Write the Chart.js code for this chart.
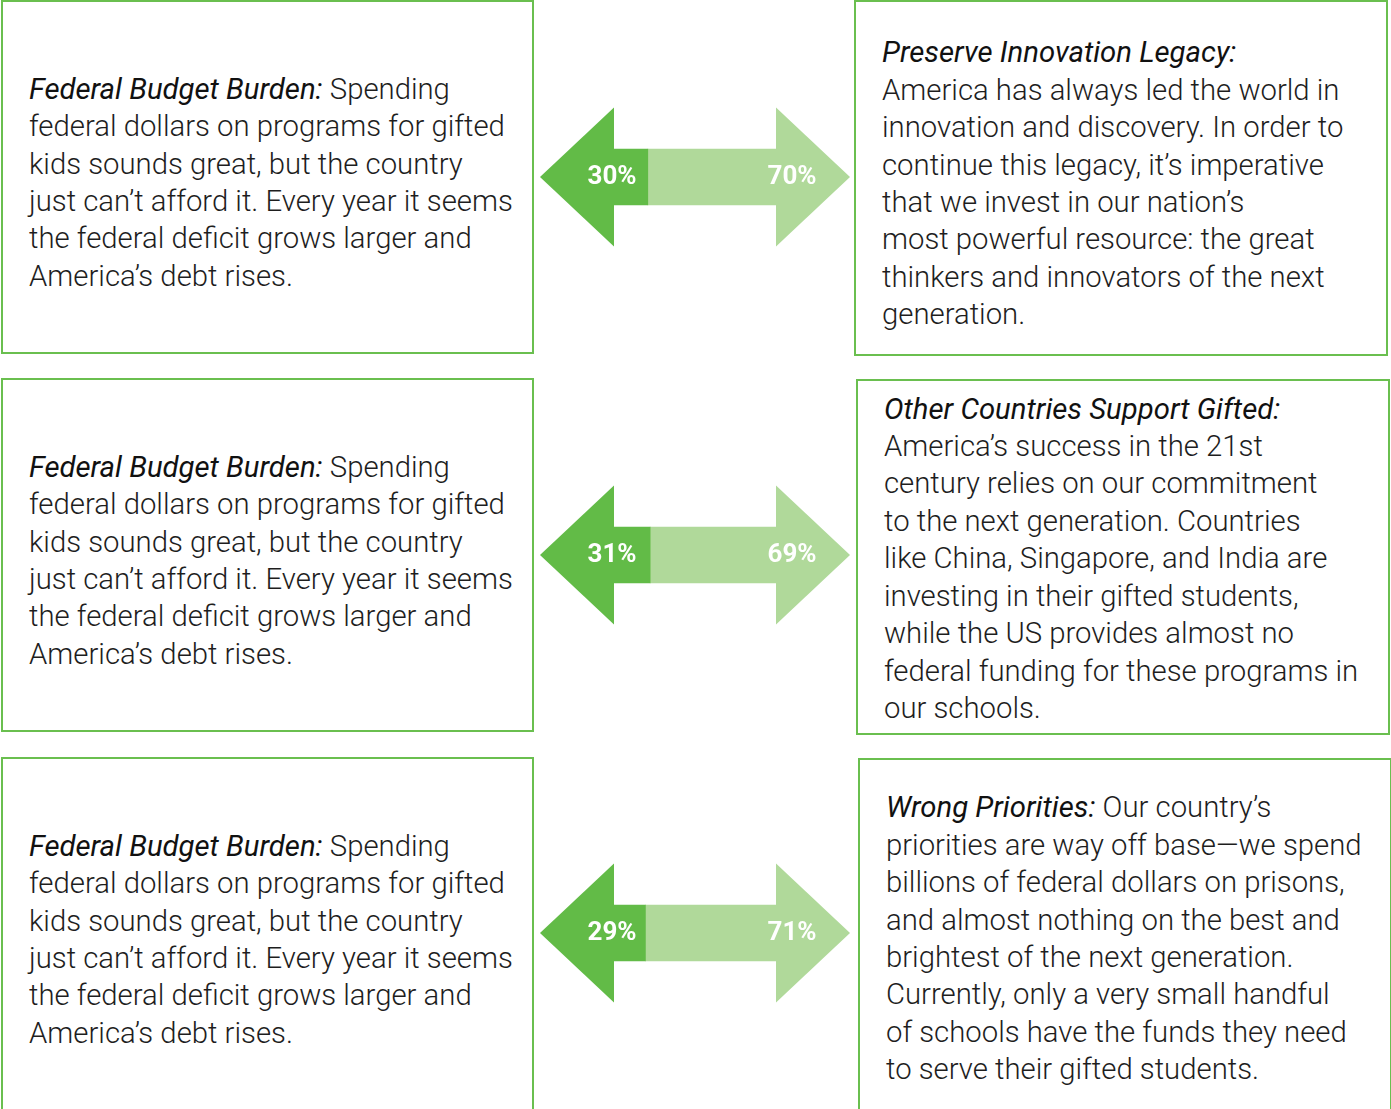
<!DOCTYPE html>
<html lang="en">

<head>
  <meta charset="UTF-8">
  <title>Gifted Funding Arguments</title>
  <script src="https://cdn.jsdelivr.net/npm/chart.js"></script>
  <style>
    html, body { margin: 0; padding: 0; background: #fff; overflow: hidden; }
    body { width: 1391px; height: 1109px; position: relative; font-family: Roboto, "Open Sans", sans-serif; }
    .box {
      position: absolute;
      box-sizing: border-box;
      border: 2px solid #6abf4f;
      display: flex;
      align-items: center;
      padding: 0 0 0 26px;
      font-weight: 300;
      font-size: 29.3px;
      line-height: 37.4px;
      color: #1e1e1e;
      white-space: nowrap;
    }
    .box em { font-style: italic; font-weight: 400; color: #111; }
    #arrow-wrap { position: absolute; left: 534px; top: -12px; width: 320px; height: 1134px; }
  </style>
</head>

<body>
  <div class="box" style="left:1px;top:0;width:533px;height:354px;padding-top:12px">
    <div><em>Federal Budget Burden:</em> Spending<br>federal dollars on programs for gifted<br>kids sounds great, but the country<br>just can’t afford it. Every year it seems<br>the federal deficit grows larger and<br>America’s debt rises.</div>
  </div>
  <div class="box" style="left:1px;top:378px;width:533px;height:354px;padding-top:12px">
    <div><em>Federal Budget Burden:</em> Spending<br>federal dollars on programs for gifted<br>kids sounds great, but the country<br>just can’t afford it. Every year it seems<br>the federal deficit grows larger and<br>America’s debt rises.</div>
  </div>
  <div class="box" style="left:1px;top:757px;width:533px;height:362px;padding-top:4px">
    <div><em>Federal Budget Burden:</em> Spending<br>federal dollars on programs for gifted<br>kids sounds great, but the country<br>just can’t afford it. Every year it seems<br>the federal deficit grows larger and<br>America’s debt rises.</div>
  </div>

  <div class="box" style="left:854px;top:0;width:534px;height:356px;padding-top:12px">
    <div><em>Preserve Innovation Legacy:</em><br>America has always led the world in<br>innovation and discovery. In order to<br>continue this legacy, it’s imperative<br>that we invest in our nation’s<br>most powerful resource: the great<br>thinkers and innovators of the next<br>generation.</div>
  </div>
  <div class="box" style="left:856px;top:379px;width:534px;height:356px;padding-top:4px">
    <div><em>Other Countries Support Gifted:</em><br>America’s success in the 21st<br>century relies on our commitment<br>to the next generation. Countries<br>like China, Singapore, and India are<br>investing in their gifted students,<br>while the US provides almost no<br>federal funding for these programs in<br>our schools.</div>
  </div>
  <div class="box" style="left:858px;top:758px;width:534px;height:362px">
    <div><em>Wrong Priorities:</em> Our country’s<br>priorities are way off base—we spend<br>billions of federal dollars on prisons,<br>and almost nothing on the best and<br>brightest of the next generation.<br>Currently, only a very small handful<br>of schools have the funds they need<br>to serve their gifted students.</div>
  </div>

  <div id="arrow-wrap"><canvas id="arrows"></canvas></div>

  <script>
    // one row per pair of boxes
    const rows = ["Budget vs Innovation", "Budget vs Other Countries", "Budget vs Priorities"];
    const againstShare = [30, 31, 29];
    const forShare = [70, 69, 71];

    const darkGreen = "#62bb47";
    const lightGreen = "#b0d99a";

    // arrow heads sit on the bar ends, percent labels inside
    const arrowHeads = {
      id: "arrowHeads",
      afterDatasetsDraw(chart) {
        const ctx = chart.ctx;
        const left = chart.getDatasetMeta(0).data;
        const right = chart.getDatasetMeta(1).data;
        const half = 37, headH = 69.5;
        ctx.save();
        left.forEach((bar, i) => {
          const y = bar.y;
          ctx.fillStyle = darkGreen;
          ctx.beginPath();
          ctx.moveTo(bar.base - half, y);
          ctx.lineTo(bar.base + half, y - headH);
          ctx.lineTo(bar.base + half, y + headH);
          ctx.closePath();
          ctx.fill();

          const r = right[i];
          ctx.fillStyle = lightGreen;
          ctx.beginPath();
          ctx.moveTo(r.x + half, y);
          ctx.lineTo(r.x - half, y - headH);
          ctx.lineTo(r.x - half, y + headH);
          ctx.closePath();
          ctx.fill();

          ctx.fillStyle = "#fff";
          ctx.font = "bold 26px Roboto, sans-serif";
          ctx.textAlign = "center";
          ctx.textBaseline = "middle";
          ctx.fillText(againstShare[i] + "%", bar.base + 35, y);
          ctx.fillText(forShare[i] + "%", r.x - 21, y);
        });
        ctx.restore();
      }
    };

    new Chart(document.getElementById("arrows"), {
      type: "bar",
      data: {
        labels: rows,
        datasets: [
          { label: "Against", data: againstShare, backgroundColor: darkGreen, barThickness: 56, borderWidth: 0 },
          { label: "For", data: forShare, backgroundColor: lightGreen, barThickness: 56, borderWidth: 0 }
        ]
      },
      options: {
        indexAxis: "y",
        responsive: true,
        maintainAspectRatio: false,
        animation: false,
        layout: { padding: { left: 43, right: 41, top: 0, bottom: 0 } },
        plugins: { legend: { display: false }, tooltip: { enabled: false } },
        scales: {
          x: { stacked: true, min: 0, max: 100, display: false },
          y: { stacked: true, display: false }
        }
      },
      plugins: [arrowHeads]
    });
  </script>
</body>

</html>
